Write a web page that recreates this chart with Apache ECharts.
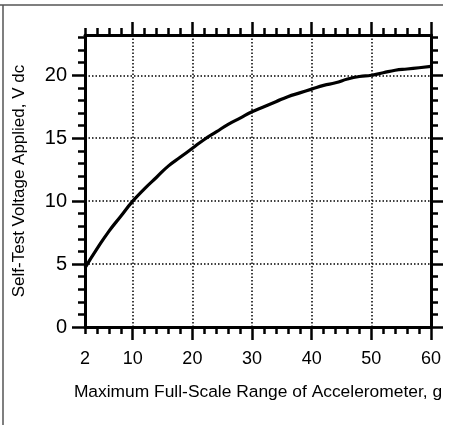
<!DOCTYPE html>
<html>
<head>
<meta charset="utf-8">
<script src="https://cdn.jsdelivr.net/npm/echarts@6/dist/echarts.min.js"></script>
<style>
html,body{margin:0;padding:0;background:#fff;}
#c{width:453px;height:425px;}
</style>
</head>
<body>
<div id="c"></div>
<script>
// Data
const gValues = [2,4,6,8,10,12,14,16,18,20,22,24,26,28,30,32,34,36,38,40,42,44,46,48,50,52,54,56,58,60];
const voltage = [4.7,6.2,7.6,8.8,10.0,11.0,11.9,12.8,13.5,14.2,14.9,15.5,16.1,16.6,17.1,17.5,17.9,18.3,18.6,18.9,19.2,19.4,19.7,19.9,20.0,20.2,20.4,20.5,20.6,20.7];
const xLabelTicks = [2,10,20,30,40,50,60];
const xMajorTicks = [10,20,30,40,50,60];
const xMinorTicks = [2,4,6,8,12,14,16,18,22,24,26,28,32,34,36,38,42,44,46,48,52,54,56,58];
const yMajorTicks = [0,5,10,15,20];
const yMinorTicks = [1,2,3,4,6,7,8,9,11,12,13,14,16,17,18,19,21,22,23];
const xTitle = 'Maximum Full-Scale Range of Accelerometer, g';
const yTitle = 'Self-Test Voltage Applied, V dc';

const X_MIN = 2, X_MAX = 60, Y_MIN = 0, Y_MAX = 23.2;
const font = '"Liberation Sans", Arial, sans-serif';
const lineW = 2.5;

function xAxisDef(pos, ticks, len, opts) {
  return Object.assign({
    type: 'value', position: pos, min: X_MIN, max: X_MAX,
    axisLine: { show: false, onZero: false },
    axisTick: { show: true, inside: false, length: len, customValues: ticks, lineStyle: { color: '#000', width: lineW } },
    axisLabel: { show: false },
    splitLine: { show: false }
  }, opts || {});
}
function yAxisDef(pos, ticks, len, opts) {
  return Object.assign({
    type: 'value', position: pos, min: Y_MIN, max: Y_MAX,
    axisLine: { show: false, onZero: false },
    axisTick: { show: true, inside: false, length: len, customValues: ticks, lineStyle: { color: '#000', width: lineW } },
    axisLabel: { show: false },
    splitLine: { show: false }
  }, opts || {});
}

const chart = echarts.init(document.getElementById('c'), null, { renderer: 'canvas' });
chart.setOption({
  backgroundColor: '#fff',
  animation: false,
  grid: { left: 85, top: 35, right: 22, bottom: 98, containLabel: false },
  graphic: [
    { type: 'line', shape: { x1: 0, y1: 5, x2: 443, y2: 5 }, style: { stroke: '#555', lineWidth: 1.5 } },
    { type: 'line', shape: { x1: 3, y1: 5, x2: 3, y2: 425 }, style: { stroke: '#555', lineWidth: 1.5 } }
  ],
  xAxis: [
    xAxisDef('bottom', xMajorTicks, 13, {
      axisLine: { show: true, onZero: false, lineStyle: { color: '#000', width: lineW + 0.5 } },
      splitLine: { show: true, lineStyle: { color: '#000', width: 1.5, type: [1.5, 2] } },
      name: xTitle, nameLocation: 'middle', nameGap: 57,
      nameTextStyle: { fontFamily: font, fontSize: 17.4, color: '#000' }
    }),
    xAxisDef('bottom', xMinorTicks, 7, {
      axisLabel: { show: true, customValues: xLabelTicks, margin: 23, fontFamily: font, fontSize: 18, color: '#000' }
    }),
    xAxisDef('top', xMajorTicks, 13, {
      axisLine: { show: true, onZero: false, lineStyle: { color: '#000', width: lineW + 0.5 } }
    }),
    xAxisDef('top', xMinorTicks, 7)
  ],
  yAxis: [
    yAxisDef('left', yMajorTicks, 13, {
      axisLine: { show: true, onZero: false, lineStyle: { color: '#000', width: lineW + 0.5 } },
      splitLine: { show: true, lineStyle: { color: '#000', width: 1.5, type: [1.5, 2] } },
      axisLabel: { show: true, customValues: yMajorTicks, margin: 18, fontFamily: font, fontSize: 20, color: '#000' },
      name: yTitle, nameLocation: 'middle', nameGap: 57, nameRotate: 90,
      nameTextStyle: { fontFamily: font, fontSize: 17, color: '#000' }
    }),
    yAxisDef('left', yMinorTicks, 7),
    yAxisDef('right', yMajorTicks, 12, {
      axisLine: { show: true, onZero: false, lineStyle: { color: '#000', width: lineW + 0.5 } }
    }),
    yAxisDef('right', yMinorTicks, 7)
  ],
  series: [{
    type: 'line',
    xAxisIndex: 0, yAxisIndex: 0,
    data: gValues.map((g, i) => [g, voltage[i]]),
    showSymbol: false,
    smooth: true,
    lineStyle: { color: '#000', width: 3.2 },
    z: 5
  }]
});
</script>
</body>
</html>
